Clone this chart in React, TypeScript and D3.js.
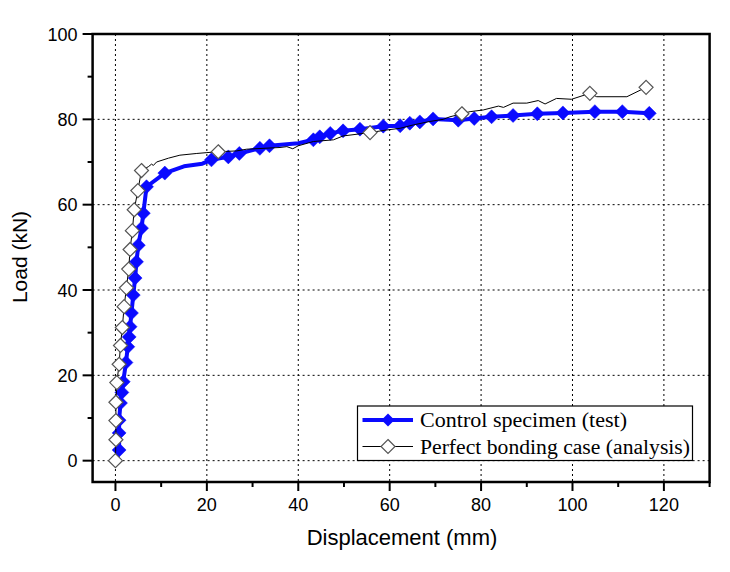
import React from "react";
import * as d3 from "d3";

const xMajorTicks = [0, 20, 40, 60, 80, 100, 120];
const xMinorTicks = [10, 30, 50, 70, 90, 110, 130];
const yMajorTicks = [0, 20, 40, 60, 80, 100];
const yMinorTicks = [10, 30, 50, 70, 90];
const xGrid = [0, 20, 40, 60, 80, 100, 120];
const yGrid = [0, 20, 40, 60, 80];

const seriesNames = ["Control specimen (test)", "Perfect bonding case (analysis)"];

// Control specimen (test): line vertices
const testLine: [number, number][] = [
  [0.5, 1], [0.8, 2.5], [0.8, 6.5], [0.8, 9.5], [1.1, 13.5], [1.4, 16], [1.7, 18.5],
  [2.3, 23], [2.7, 26.7], [3.0, 29], [3.2, 31.4], [3.5, 34.6], [3.9, 38.8], [4.3, 42.8],
  [4.6, 46.6], [5.0, 50.5], [5.7, 54.5], [6.1, 58], [6.8, 64.2], [10.8, 67.4], [15, 69],
  [19, 69.6], [21, 70.5], [24.7, 71.2], [27.1, 72], [31.6, 73.2], [33.7, 73.8], [40, 74.4],
  [43.3, 75.2], [44.7, 75.9], [47, 76.7], [49.8, 77.3], [53.5, 77.7], [58.6, 78.4],
  [62.3, 78.5], [64.4, 79.1], [66.6, 79.4], [69.5, 80.1], [75, 79.8], [78.5, 80.2],
  [82.3, 80.6], [87, 80.9], [92.3, 81.3], [97.9, 81.5], [104.9, 81.8], [110.9, 81.8],
  [116.8, 81.4],
];
// Control specimen (test): marker points
const testMarkers: [number, number][] = [
  [0.8, 2.5], [0.8, 6.5], [0.8, 9.5], [1.1, 13.5], [1.4, 16], [1.7, 18.5],
  [2.3, 23], [2.7, 26.7], [3.0, 29], [3.2, 31.4], [3.5, 34.6], [3.9, 38.8], [4.3, 42.8],
  [4.6, 46.6], [5.0, 50.5], [5.7, 54.5], [6.1, 58], [6.8, 64.2], [10.8, 67.4],
  [21, 70.5], [24.7, 71.2], [27.1, 72], [31.6, 73.2], [33.7, 73.8],
  [43.3, 75.2], [44.7, 75.9], [47, 76.7], [49.8, 77.3], [53.5, 77.7], [58.6, 78.4],
  [62.3, 78.5], [64.4, 79.1], [66.6, 79.4], [69.5, 80.1], [75, 79.8], [78.5, 80.2],
  [82.3, 80.6], [87, 80.9], [92.3, 81.3], [97.9, 81.5], [104.9, 81.8], [110.9, 81.8],
  [116.8, 81.4],
];

// Perfect bonding case (analysis): line vertices
const analysisLine: [number, number][] = [
  [0, 0], [0.1, 4.9], [0.1, 9.4], [0.1, 13.7], [0.3, 18.3], [0.8, 22.6], [1.1, 27],
  [1.5, 31.2], [1.9, 36.1], [2.4, 40.5], [2.9, 44.9], [3.2, 49.5], [3.7, 53.9],
  [4.1, 58.8], [4.9, 63.3], [5.7, 68], [7.2, 68.9], [7.9, 69.5], [8.3, 69.2], [9, 70],
  [11.6, 70.9], [14.1, 71.6], [17.8, 72], [20, 72.2], [22.5, 72.4], [26.5, 72.6],
  [28.7, 73], [36, 73.4], [37.5, 73.6], [38.8, 73.1], [40, 73.8], [43.3, 74.8],
  [47.7, 75.2], [49.8, 76.1], [53.5, 76.6], [55.7, 76.9], [59.3, 77.5], [62.3, 77.9],
  [65.2, 78.7], [68.8, 79.5], [71.7, 80], [73.2, 80.6], [75.8, 81.3], [77.6, 81.8],
  [80.5, 82.2], [83.8, 83.1], [84.9, 82.8], [87, 83.8], [90, 83.8], [92.5, 84.4],
  [94, 83.6], [96.5, 84.9], [99.8, 84.7], [103.8, 86.1], [105.3, 85.3], [111.9, 85.3],
  [116.1, 87.5],
];
// Perfect bonding case (analysis): marker points
const analysisMarkers: [number, number][] = [
  [0, 0], [0.1, 4.9], [0.1, 9.4], [0.1, 13.7], [0.3, 18.3], [0.8, 22.6], [1.1, 27],
  [1.5, 31.2], [1.9, 36.1], [2.4, 40.5], [2.9, 44.9], [3.2, 49.5], [3.7, 53.9],
  [4.1, 58.8], [4.9, 63.3], [5.7, 68], [22.5, 72.4], [55.7, 76.9], [75.8, 81.3],
  [103.8, 86.1], [116.1, 87.5],
];

const W = 730;
const H = 572;
const left = 92.6;
const right = 709.6;
const top = 34;
const bottom = 482;

export default function App() {
  const x = d3.scaleLinear().domain([-5, 130]).range([left, right]);
  const y = d3.scaleLinear().domain([-5, 100]).range([bottom, top]);
  const line = d3
    .line<[number, number]>()
    .x((d) => x(d[0]))
    .y((d) => y(d[1]));

  const diamond = (cx: number, cy: number, r: number) =>
    `M${cx},${cy - r}L${cx + r},${cy}L${cx},${cy + r}L${cx - r},${cy}Z`;

  const blue = "#0a0aff";
  const axisFont = "Arial, 'Liberation Sans', sans-serif";
  const serif = "'Times New Roman', 'Liberation Serif', serif";

  const legX = 357.5;
  const legY = 406;
  const legW = 335;
  const legH = 54.5;

  return (
    <svg
      width={W}
      height={H}
      style={{ position: "absolute", left: 0, top: 0, background: "#fff" }}
    >
      <rect x={0} y={0} width={W} height={H} fill="#fff" />
      {/* grid */}
      {xGrid.map((v) => (
        <line
          key={"gx" + v}
          x1={x(v)}
          x2={x(v)}
          y1={top}
          y2={bottom}
          stroke="#000"
          strokeWidth={1}
          strokeDasharray="2,3"
        />
      ))}
      {yGrid.map((v) => (
        <line
          key={"gy" + v}
          x1={left}
          x2={right}
          y1={y(v)}
          y2={y(v)}
          stroke="#000"
          strokeWidth={1}
          strokeDasharray="2,3"
        />
      ))}

      {/* test series */}
      <path d={line(testLine) || ""} fill="none" stroke={blue} strokeWidth={4} strokeLinejoin="round" />
      {testMarkers.map((d, i) => (
        <path key={"tm" + i} d={diamond(x(d[0]), y(d[1]), 7)} fill={blue} stroke={blue} strokeWidth={0.5} />
      ))}

      {/* analysis series */}
      <path d={line(analysisLine) || ""} fill="none" stroke="#000" strokeWidth={1} />
      {analysisMarkers.map((d, i) => (
        <path
          key={"am" + i}
          d={diamond(x(d[0]), y(d[1]), 7)}
          fill="#fff"
          stroke="#555"
          strokeWidth={1.2}
        />
      ))}

      {/* frame */}
      <rect
        x={left}
        y={top}
        width={right - left}
        height={bottom - top}
        fill="none"
        stroke="#000"
        strokeWidth={2.5}
      />

      {/* x ticks */}
      {xMajorTicks.map((v) => (
        <g key={"xt" + v}>
          <line x1={x(v)} x2={x(v)} y1={bottom} y2={bottom + 9} stroke="#000" strokeWidth={2} />
          <text
            x={x(v)}
            y={bottom + 29}
            textAnchor="middle"
            fontFamily={axisFont}
            fontSize={18}
            fill="#000"
          >
            {v}
          </text>
        </g>
      ))}
      {xMinorTicks.map((v) => (
        <line key={"xm" + v} x1={x(v)} x2={x(v)} y1={bottom} y2={bottom + 5} stroke="#000" strokeWidth={2} />
      ))}

      {/* y ticks */}
      {yMajorTicks.map((v) => (
        <g key={"yt" + v}>
          <line x1={left - 10} x2={left} y1={y(v)} y2={y(v)} stroke="#000" strokeWidth={2} />
          <text
            x={left - 15}
            y={y(v) + 6.5}
            textAnchor="end"
            fontFamily={axisFont}
            fontSize={18}
            fill="#000"
          >
            {v}
          </text>
        </g>
      ))}
      {yMinorTicks.map((v) => (
        <line key={"ym" + v} x1={left - 5} x2={left} y1={y(v)} y2={y(v)} stroke="#000" strokeWidth={2} />
      ))}

      {/* axis titles */}
      <text
        x={402}
        y={545}
        textAnchor="middle"
        fontFamily={axisFont}
        fontSize={22}
        fill="#000"
      >
        Displacement (mm)
      </text>
      <text
        transform={`translate(27,257) rotate(-90)`}
        textAnchor="middle"
        fontFamily={axisFont}
        fontSize={21}
        fill="#000"
      >
        Load (kN)
      </text>

      {/* legend */}
      <rect x={legX} y={legY} width={legW} height={legH} fill="#fff" stroke="#000" strokeWidth={1.2} />
      <line x1={362.5} x2={413} y1={420} y2={420} stroke={blue} strokeWidth={4} />
      <path d={diamond(388, 420, 6.5)} fill={blue} />
      <line x1={362.5} x2={413} y1={446.5} y2={446.5} stroke="#000" strokeWidth={1} />
      <path d={diamond(388, 446.5, 7)} fill="#fff" stroke="#555" strokeWidth={1.2} />
      <text x={420} y={427} fontFamily={serif} fontSize={20} fill="#000" textLength={207} lengthAdjust="spacingAndGlyphs">
        {seriesNames[0]}
      </text>
      <text x={420} y={453.5} fontFamily={serif} fontSize={20} fill="#000" textLength={270} lengthAdjust="spacingAndGlyphs">
        {seriesNames[1]}
      </text>
    </svg>
  );
}
